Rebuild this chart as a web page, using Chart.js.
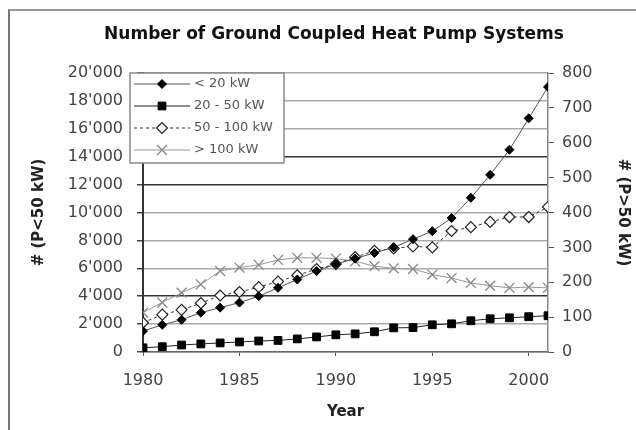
<!DOCTYPE html>
<html>
<head>
<meta charset="utf-8">
<script src="https://cdn.jsdelivr.net/npm/chart.js@4.4.1/dist/chart.umd.min.js"></script>
<style>
  html, body { margin: 0; padding: 0; background: #fff; }
  #wrap { position: relative; width: 636px; height: 430px; overflow: hidden; }
  #frame { position: absolute; left: 8px; top: 9px; right: -4px; bottom: -4px; border-left: 2px solid #777; border-top: 2px solid #999; }
  canvas { position: absolute; left: 0; top: 0; }
</style>
</head>
<body>
<div id="wrap"><div id="frame"></div><canvas id="chart" width="636" height="430"></canvas></div>
<script>
// data
const years = [1980, 1981, 1982, 1983, 1984, 1985, 1986, 1987, 1988, 1989, 1990,
               1991, 1992, 1993, 1994, 1995, 1996, 1997, 1998, 1999, 2000, 2001];

// left axis, # of systems
const below20 = [1500, 1950, 2310, 2820, 3180, 3540, 4000, 4600, 5200, 5800, 6300,
                 6700, 7100, 7500, 8090, 8660, 9600, 11050, 12700, 14500, 16750, 19000];
const from20to50 = [300, 380, 500, 580, 650, 720, 790, 830, 940, 1080, 1230,
                    1300, 1450, 1730, 1750, 1950, 2020, 2240, 2380, 2450, 2530, 2600];

// right axis, # of systems
const from50to100 = [84, 107, 121, 140, 162, 172, 186, 202, 220, 238, 252,
                     272, 290, 297, 303, 300, 347, 358, 373, 387, 387, 416];
const above100 = [113, 142, 170, 194, 232, 242, 250, 264, 270, 270, 268,
                  260, 246, 240, 238, 222, 212, 198, 190, 184, 186, 184];

const seriesLabels = ['< 20 kW', '20 - 50 kW', '50 - 100 kW', '> 100 kW'];
const xTicks = [1980, 1985, 1990, 1995, 2000];

const toPoints = vals => vals.map((v, i) => ({ x: years[i], y: v }));
const darkGrid = [4000, 12000, 14000];

Chart.defaults.font.family = "'DejaVu Sans', sans-serif";
Chart.defaults.color = '#444';

// legend box drawn over the plot, top left
const boxLegend = {
    id: 'boxLegend',
    afterDraw(chart) {
        const ctx = chart.ctx;
        const left = chart.chartArea.left - 13;
        const top = chart.chartArea.top;
        ctx.save();
        ctx.fillStyle = '#fff';
        ctx.strokeStyle = '#888';
        ctx.lineWidth = 1.5;
        ctx.fillRect(left, top, 154, 90);
        ctx.strokeRect(left, top, 154, 90);
        chart.data.datasets.forEach((ds, i) => {
            const y = top + 11 + i * 22;
            ctx.strokeStyle = ds.borderColor;
            ctx.lineWidth = ds.borderWidth;
            ctx.setLineDash(ds.borderDash || []);
            ctx.beginPath();
            ctx.moveTo(left + 4, y);
            ctx.lineTo(left + 60, y);
            ctx.stroke();
            ctx.setLineDash([]);
            ctx.fillStyle = ds.pointBackgroundColor;
            ctx.strokeStyle = ds.pointBorderColor;
            ctx.lineWidth = ds.pointBorderWidth;
            Chart.helpers.drawPoint(ctx, {
                pointStyle: ds.pointStyle, rotation: 0,
                radius: ds.pointRadius, borderWidth: ds.pointBorderWidth
            }, left + 32, y);
            ctx.fillStyle = '#555';
            ctx.font = "13px 'DejaVu Sans'";
            ctx.textBaseline = 'middle';
            ctx.fillText(ds.label, left + 64, y);
        });
        ctx.restore();
    }
};

new Chart(document.getElementById('chart'), {
    type: 'line',
    data: {
        datasets: [{
            label: seriesLabels[0],
            data: toPoints(below20),
            yAxisID: 'y',
            borderColor: '#555',
            borderWidth: 1,
            pointStyle: 'rectRot',
            pointRadius: 4.5,
            pointBackgroundColor: '#000',
            pointBorderColor: '#000',
            pointBorderWidth: 1
        }, {
            label: seriesLabels[1],
            data: toPoints(from20to50),
            yAxisID: 'y',
            borderColor: '#222',
            borderWidth: 1,
            pointStyle: 'rect',
            pointRadius: 5.5,
            pointBackgroundColor: '#000',
            pointBorderColor: '#000',
            pointBorderWidth: 1
        }, {
            label: seriesLabels[2],
            data: toPoints(from50to100),
            yAxisID: 'y2',
            borderColor: '#333',
            borderWidth: 1,
            borderDash: [3, 3],
            pointStyle: 'rectRot',
            pointRadius: 5.5,
            pointBackgroundColor: '#fff',
            pointBorderColor: '#222',
            pointBorderWidth: 1.2
        }, {
            label: seriesLabels[3],
            data: toPoints(above100),
            yAxisID: 'y2',
            borderColor: '#999',
            borderWidth: 1,
            pointStyle: 'crossRot',
            pointRadius: 7,
            pointBackgroundColor: '#888',
            pointBorderColor: '#888',
            pointBorderWidth: 1.3
        }]
    },
    options: {
        responsive: false,
        animation: false,
        layout: { padding: { left: 32, right: 0, top: 0, bottom: 0 } },
        plugins: {
            legend: { display: false },
            tooltip: { enabled: false },
            title: {
                display: true,
                text: 'Number of Ground Coupled Heat Pump Systems',
                color: '#111',
                font: { size: 17, weight: 'bold' },
                padding: { top: 24, bottom: 28.6 }
            }
        },
        scales: {
            x: {
                type: 'linear',
                min: years[0],
                max: years[years.length - 1],
                afterFit: s => { s.height = 78; },
                afterBuildTicks: s => { s.ticks = xTicks.map(v => ({ value: v })); },
                grid: { drawOnChartArea: false, drawTicks: true, tickLength: 4, tickColor: '#555' },
                border: { color: '#666', width: 1.5 },
                ticks: { padding: 15, font: { size: 16 }, color: '#444', callback: v => String(v) },
                title: {
                    display: true, text: 'Year', color: '#222',
                    font: { size: 15, weight: 'bold' }, padding: { top: 0, bottom: 9 }
                }
            },
            y: {
                position: 'left',
                min: 0,
                max: 20000,
                afterFit: s => { s.width = 111; },
                ticks: {
                    stepSize: 2000,
                    padding: 14,
                    font: { size: 16 },
                    color: '#444',
                    callback: v => v.toString().replace(/\B(?=(\d{3})+(?!\d))/g, "'")
                },
                grid: {
                    color: c => darkGrid.includes(c.tick && c.tick.value) ? '#333' : '#aaa',
                    lineWidth: 1.5,
                    tickLength: 6,
                    tickColor: '#444'
                },
                border: { color: '#333', width: 2 },
                title: {
                    display: true, text: '# (P<50 kW)', color: '#222',
                    font: { size: 15, weight: 'bold', lineHeight: 1 }, padding: { top: 0, bottom: 0 }
                }
            },
            y2: {
                position: 'right',
                min: 0,
                max: 800,
                afterFit: s => { s.width = 88; },
                ticks: { stepSize: 100, padding: 8, font: { size: 16 }, color: '#444' },
                grid: { drawOnChartArea: false, tickLength: 6, tickColor: '#555' },
                border: { color: '#888', width: 1.5 },
                title: {
                    display: true, text: '# (P>50 kW)', color: '#222',
                    font: { size: 15, weight: 'bold', lineHeight: 1 }, padding: { top: 5.5, bottom: 0 }
                }
            }
        }
    },
    plugins: [boxLegend]
});
</script>
</body>
</html>
